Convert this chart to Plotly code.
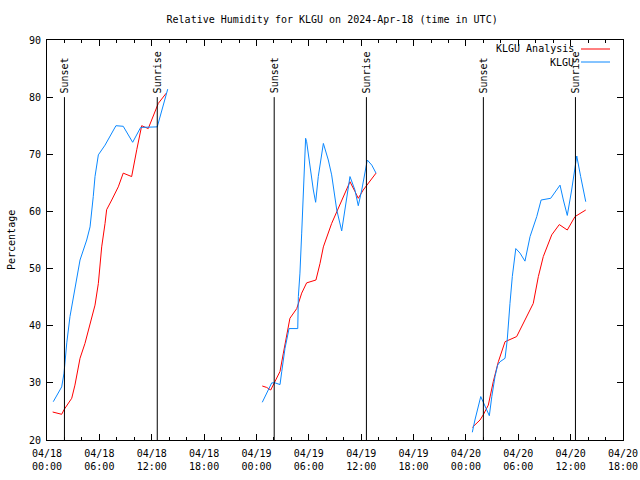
import plotly.graph_objects as go

# ---------------- data ----------------
# KLGU observations (blue), per day: times (UTC) and RH %
obs_times_d1 = ["00:43", "01:41", "01:57", "02:16", "02:38", "03:12", "03:47", "04:33", "04:56", "05:18",
                "05:30", "05:53", "06:39", "07:54", "08:44", "09:49", "10:44", "12:38", "12:57", "13:50"]
obs_rh_d1 = [26.7, 29.3, 31.7, 37.0, 41.6, 46.3, 51.5, 55.0, 57.3, 62.6,
             66.1, 69.9, 71.6, 75.0, 74.9, 72.1, 74.7, 74.8, 76.6, 81.4]

obs_times_d2 = ["00:40", "01:21", "01:45", "02:08", "02:42", "02:54", "03:16", "03:44", "04:44", "04:48",
                "04:59", "05:11", "05:22", "05:38", "05:45", "06:08", "06:31", "06:47", "07:05", "07:40",
                "08:14", "08:37", "09:12", "09:46", "10:09", "10:43", "11:17", "11:40", "12:04", "12:42",
                "13:13", "13:42"]
obs_rh_d2 = [26.6, 28.75, 30.0, 30.0, 29.7, 32.0, 36.0, 39.5, 39.5, 45.1,
             49.2, 56.2, 63.75, 72.8, 72.2, 67.8, 63.75, 61.6, 66.1, 71.9,
             69.0, 66.4, 60.25, 56.6, 60.25, 66.1, 63.75, 61.0, 63.75, 69.0,
             68.1, 66.7]

obs_times_d3 = ["00:44", "01:02", "01:42", "01:59", "02:23", "02:41", "02:58", "03:20", "03:38", "03:55",
                "04:29", "04:44", "05:03", "05:19", "05:43", "06:12", "06:46", "07:21", "08:07", "08:37",
                "09:43", "10:47", "11:10", "11:37", "12:07", "12:42", "13:09", "13:44"]
obs_rh_d3 = [21.35, 23.5, 27.6, 26.7, 25.25, 24.25, 27.6, 31.1, 33.1, 33.7,
             34.3, 37.5, 43.9, 48.6, 53.5, 52.7, 51.3, 55.6, 59.1, 62.0,
             62.3, 64.6, 62.0, 59.3, 63.75, 69.7, 66.1, 61.7]

# KLGU Analysis (red)
ana_times_d1 = ["00:39", "01:18", "01:41", "01:57", "02:50", "03:12", "03:47", "04:21", "04:56", "05:30",
                "05:53", "06:16", "06:39", "06:50", "07:25", "08:10", "08:44", "09:42", "10:17", "10:51",
                "11:36", "12:11", "12:45", "13:40"]
ana_rh_d1 = [24.9, 24.7, 24.5, 25.3, 27.3, 29.6, 34.3, 36.9, 40.4, 43.6,
             47.4, 53.8, 57.9, 60.3, 62.0, 64.3, 66.7, 66.1, 70.8, 75.0,
             74.5, 76.9, 78.9, 80.7]

ana_times_d2 = ["00:40", "01:10", "01:38", "02:08", "02:42", "03:05", "03:28", "03:50", "04:37", "05:11",
                "05:45", "06:49", "07:17", "07:40", "08:37", "09:34", "10:20", "10:43", "11:17", "11:40",
                "12:14", "12:38", "13:42"]
ana_rh_d2 = [29.45, 29.2, 28.75, 30.2, 32.0, 35.2, 38.7, 41.3, 43.0, 45.7,
             47.5, 48.0, 50.9, 53.8, 57.9, 61.1, 63.75, 65.2, 63.5, 62.3,
             63.75, 64.6, 66.7]

ana_times_d3 = ["00:44", "01:10", "01:37", "01:59", "02:34", "03:08", "03:43", "04:29", "05:49", "06:46",
                "07:43", "08:18", "08:52", "09:50", "10:42", "11:37", "12:30", "13:44"]
ana_rh_d3 = [22.2, 22.9, 23.5, 24.4, 26.1, 30.2, 33.7, 37.2, 38.1, 41.0,
             43.9, 48.6, 52.1, 55.9, 57.7, 56.75, 59.1, 60.25]

days = ["2024-04-18", "2024-04-19", "2024-04-20"]

sunset_times = ["2024-04-18 02:00", "2024-04-19 02:02", "2024-04-20 02:00"]
sunrise_times = ["2024-04-18 12:38", "2024-04-19 12:36", "2024-04-20 12:33"]

xtick_vals = ["2024-04-18 00:00", "2024-04-18 06:00", "2024-04-18 12:00", "2024-04-18 18:00",
              "2024-04-19 00:00", "2024-04-19 06:00", "2024-04-19 12:00", "2024-04-19 18:00",
              "2024-04-20 00:00", "2024-04-20 06:00", "2024-04-20 12:00", "2024-04-20 18:00"]
xtick_text = ["04/18<br>00:00", "04/18<br>06:00", "04/18<br>12:00", "04/18<br>18:00",
              "04/19<br>00:00", "04/19<br>06:00", "04/19<br>12:00", "04/19<br>18:00",
              "04/20<br>00:00", "04/20<br>06:00", "04/20<br>12:00", "04/20<br>18:00"]
ytick_vals = [20, 30, 40, 50, 60, 70, 80, 90]


def join_days(time_lists, value_lists):
    xs, ys = [], []
    for d, tl, vl in zip(days, time_lists, value_lists):
        if xs:
            xs.append(None)
            ys.append(None)
        xs += [d + " " + t for t in tl]
        ys += list(vl)
    return xs, ys


ana_x, ana_y = join_days([ana_times_d1, ana_times_d2, ana_times_d3], [ana_rh_d1, ana_rh_d2, ana_rh_d3])
obs_x, obs_y = join_days([obs_times_d1, obs_times_d2, obs_times_d3], [obs_rh_d1, obs_rh_d2, obs_rh_d3])

RED = "#ff0000"
BLUE = "#0a88ff"
FONT = "DejaVu Sans Mono"

fig = go.Figure()
fig.add_trace(go.Scatter(x=ana_x, y=ana_y, mode="lines", name="KLGU Analysis",
                         line=dict(color=RED, width=1), connectgaps=False, showlegend=False))
fig.add_trace(go.Scatter(x=obs_x, y=obs_y, mode="lines", name="KLGU",
                         line=dict(color=BLUE, width=1), connectgaps=False, showlegend=False))

# sunset / sunrise markers
for t, label in [(s, "Sunset") for s in sunset_times] + [(s, "Sunrise") for s in sunrise_times]:
    fig.add_shape(type="line", xref="x", yref="y", x0=t, x1=t, y0=20, y1=80,
                  line=dict(color="black", width=1))
    fig.add_annotation(x=t, y=80, xref="x", yref="y", text=label, textangle=-90,
                       showarrow=False, xanchor="center", yanchor="bottom", yshift=2,
                       font=dict(family=FONT, size=10, color="black"))

# gnuplot-style legend (text left, sample right)
for name, color, ypx in [("KLGU Analysis", RED, 49), ("KLGU", BLUE, 62)]:
    yp = (440 - ypx) / 400
    fig.add_annotation(x=(576 - 47) / 576, y=yp, xref="paper", yref="paper", text=name,
                       showarrow=False, xanchor="right", yanchor="middle",
                       font=dict(family=FONT, size=10, color="black"))
    fig.add_shape(type="line", xref="paper", yref="paper",
                  x0=(581 - 47) / 576, x1=(610 - 47) / 576, y0=yp, y1=yp,
                  line=dict(color=color, width=1))

# y-axis title
fig.add_annotation(x=(11 - 47) / 576, y=0.5, xref="paper", yref="paper", text="Percentage",
                   textangle=-90, showarrow=False, xanchor="center", yanchor="middle",
                   font=dict(family=FONT, size=10, color="black"))

fig.update_layout(
    width=640, height=480,
    margin=dict(l=47, r=17, t=40, b=40, autoexpand=False),
    paper_bgcolor="white", plot_bgcolor="white",
    font=dict(family=FONT, size=10, color="black"),
    title=dict(text="Relative Humidity for KLGU on 2024-Apr-18 (time in UTC)",
               x=0.495, xref="paper", xanchor="center", y=1 - 19 / 480, yref="container",
               yanchor="middle", font=dict(family=FONT, size=10, color="black")),
    showlegend=False,
)
fig.update_xaxes(
    type="date", range=["2024-04-18 00:00", "2024-04-20 18:00"], automargin=False,
    tickmode="array", tickvals=xtick_vals, ticktext=xtick_text,
    ticks="inside", ticklen=6, tickcolor="black", tickwidth=1, ticklabelstandoff=4,
    showline=True, linecolor="black", linewidth=1, mirror="allticks",
    showgrid=False, zeroline=False,
    minor=dict(ticks="inside", ticklen=3, dtick=2 * 3600 * 1000, tick0="2024-04-18 00:00",
               tickcolor="black", showgrid=False),
    tickfont=dict(family=FONT, size=10, color="black"),
)
fig.update_yaxes(
    range=[20, 90], tickmode="array", tickvals=ytick_vals, automargin=False,
    ticks="inside", ticklen=6, tickcolor="black", tickwidth=1, ticklabelstandoff=3,
    showline=True, linecolor="black", linewidth=1, mirror="allticks",
    showgrid=False, zeroline=False,
    tickfont=dict(family=FONT, size=10, color="black"),
)

fig.write_html("out.html", config={"displayModeBar": False},
               post_script="document.body.style.margin='0';document.body.style.overflow='hidden';")
